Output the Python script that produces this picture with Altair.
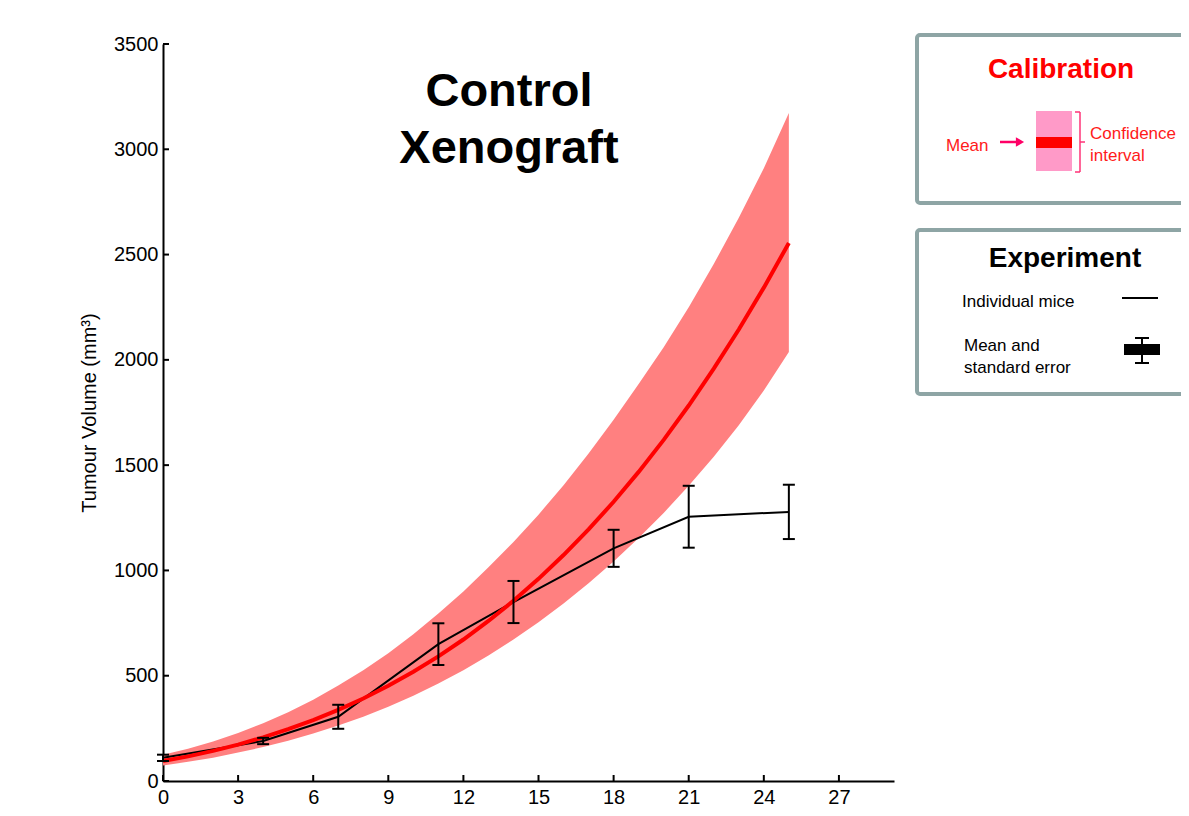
import altair as alt
import pandas as pd

# ---------------- data ----------------
days = list(range(26))
cal_mean = [95, 117, 143, 173, 207, 246, 289, 338, 392, 452, 519, 592, 672, 760,
            856, 960, 1073, 1195, 1326, 1468, 1620, 1783, 1958, 2144, 2343, 2555]
cal_upper = [125, 153, 188, 228, 274, 327, 386, 453, 526, 607, 697, 795, 900, 1015,
             1135, 1265, 1405, 1555, 1715, 1885, 2060, 2250, 2455, 2675, 2910, 3172]
cal_lower = [74, 91, 111, 135, 161, 191, 225, 263, 305, 353, 405, 463, 526, 596,
             672, 754, 843, 939, 1042, 1154, 1273, 1402, 1540, 1690, 1855, 2037]

exp_days = [0, 4, 7, 11, 14, 18, 21, 25]
exp_mean = [110, 190, 305, 650, 850, 1105, 1255, 1278]
exp_se = [15, 15, 57, 99, 100, 88, 147, 129]

x_ticks = [0, 3, 6, 9, 12, 15, 18, 21, 24, 27]
y_ticks = [0, 500, 1000, 1500, 2000, 2500, 3000, 3500]

# ---------------- tables ----------------
cal = pd.DataFrame({"t": days, "mean": cal_mean, "hi": cal_upper, "lo": cal_lower})
exp = pd.DataFrame({"t": exp_days, "mean": exp_mean, "se": exp_se})
exp["hi"] = exp["mean"] + exp["se"]
exp["lo"] = exp["mean"] - exp["se"]
xt = pd.DataFrame({"t": x_ticks})
yt = pd.DataFrame({"mean": y_ticks})
one = pd.DataFrame({"d": [0]})

W, H = 731, 737
OX, OY = 163, 44  # page position of plot origin
FONT = "Liberation Sans"

xs = alt.Scale(domain=[0, 29.2], nice=False, zero=False)
ys = alt.Scale(domain=[0, 3500], nice=False)

def px(v):
    return alt.value(v - OX)

def py(v):
    return alt.value(v - OY)

x_axis = alt.Axis(values=x_ticks, title="Time (Days)", titleFontSize=20, titleFont=FONT,
                  titleFontWeight="normal", titleColor="black", titlePadding=4,
                  labelFont=FONT, labelFontSize=20, labelColor="black", labelPadding=6,
                  tickSize=0, domainColor="black", domainWidth=2, grid=False, labelFlush=False)
y_axis = alt.Axis(values=y_ticks, format="d", title="Tumour Volume (mm³)", titleFontSize=20,
                  titleFont=FONT, titleFontWeight="normal", titleColor="black", titlePadding=14,
                  labelFont=FONT, labelFontSize=20, labelColor="black", labelPadding=5,
                  tickSize=0, domainColor="black", domainWidth=2, grid=False)

X = alt.X("t:Q", scale=xs, axis=x_axis)

band = alt.Chart(cal).mark_area(color="#FF8080", opacity=1).encode(
    x=X,
    y=alt.Y("lo:Q", scale=ys, axis=y_axis),
    y2="hi:Q",
)
exp_line = alt.Chart(exp).mark_line(color="black", strokeWidth=2).encode(
    x=X, y=alt.Y("mean:Q", scale=ys, axis=y_axis))
cal_line = alt.Chart(cal).mark_line(color="#FF0000", strokeWidth=4).encode(
    x=X, y=alt.Y("mean:Q", scale=ys, axis=y_axis))
err_v = alt.Chart(exp).mark_rule(color="black", strokeWidth=2).encode(
    x=X, y=alt.Y("lo:Q", scale=ys, axis=y_axis), y2="hi:Q")
cap_hi = alt.Chart(exp).mark_rule(color="black", strokeWidth=2, xOffset=-6, x2Offset=6).encode(
    x=X, x2="t:Q", y=alt.Y("hi:Q", scale=ys, axis=y_axis))
cap_lo = alt.Chart(exp).mark_rule(color="black", strokeWidth=2, xOffset=-6, x2Offset=6).encode(
    x=X, x2="t:Q", y=alt.Y("lo:Q", scale=ys, axis=y_axis))

# inward ticks
xtick = alt.Chart(xt).mark_rule(color="black", strokeWidth=2).encode(
    x=X, y=alt.value(H), y2=alt.value(H - 6))
ytick = alt.Chart(yt).mark_rule(color="black", strokeWidth=2).encode(
    y=alt.Y("mean:Q", scale=ys, axis=y_axis), x=alt.value(0), x2=alt.value(6))

def text(s, x, y, size, color="black", weight="normal", align="left"):
    return alt.Chart(one).mark_text(text=s, font=FONT, fontSize=size, fontWeight=weight,
                                    color=color, align=align, baseline="alphabetic").encode(
        x=px(x), y=py(y))

def rule(x1, y1, x2, y2, color, w):
    return alt.Chart(one).mark_rule(color=color, strokeWidth=w).encode(
        x=px(x1), y=py(y1), x2=px(x2), y2=py(y2))

def rect(x1, y1, x2, y2, fill, stroke=None, sw=0, r=0):
    kw = dict(fill=fill)
    if stroke:
        kw.update(stroke=stroke, strokeWidth=sw, cornerRadius=r)
    return alt.Chart(one).mark_rect(**kw).encode(x=px(x1), x2=px(x2), y=py(y1), y2=py(y2))

title1 = text("Control", 509, 106, 47, weight="bold", align="center")
title2 = text("Xenograft", 509, 163, 47, weight="bold", align="center")

BORDER = "#8EA5A5"
deco = [
    rect(917, 35, 1230, 203, "white", BORDER, 4, 3),
    text("Calibration", 1061, 78, 28, color="#FF0000", weight="bold", align="center"),
    text("Mean", 946, 151, 17, color="#FF1A1A"),
    rule(1000, 142, 1016, 142, "#FF0066", 2.5),
    alt.Chart(one).mark_point(shape="triangle-right", filled=True, color="#FF0066",
                              size=90, opacity=1).encode(x=px(1020), y=py(142)),
    rect(1036, 111, 1072, 171, "#FF9AC8"),
    rect(1036, 137, 1072, 148, "#FF0000"),
    rule(1080, 112, 1080, 172, "#FF3377", 1.5),
    rule(1075, 112, 1080, 112, "#FF3377", 1.5),
    rule(1075, 172, 1080, 172, "#FF3377", 1.5),
    rule(1080, 142, 1085, 142, "#FF3377", 1.5),
    text("Confidence", 1090, 139, 17, color="#FF1A1A"),
    text("interval", 1090, 161, 17, color="#FF1A1A"),
    rect(917, 230, 1230, 394, "white", BORDER, 4, 3),
    text("Experiment", 1065, 267, 28, weight="bold", align="center"),
    text("Individual mice", 962, 307, 17),
    rule(1122, 298, 1158, 298, "black", 2),
    text("Mean and", 964, 351, 17),
    text("standard error", 964, 373, 17),
    rule(1142, 338, 1142, 363, "black", 2),
    rule(1135, 338, 1149, 338, "black", 2),
    rule(1135, 363, 1149, 363, "black", 2),
    rect(1124, 344, 1160, 355, "black"),
]

chart = alt.layer(
    band, exp_line, cal_line, err_v, cap_hi, cap_lo, xtick, ytick, title1, title2, *deco
).properties(
    width=W, height=H,
    padding={"left": OX - 8, "top": OY - 8, "right": 1173 - (OX - 8) - W, "bottom": 27},
    autosize=alt.AutoSizeParams(type="none"),
    background="white",
).configure_view(stroke=None)

chart.save("out.html", embed_options={"renderer": "svg", "actions": False})
